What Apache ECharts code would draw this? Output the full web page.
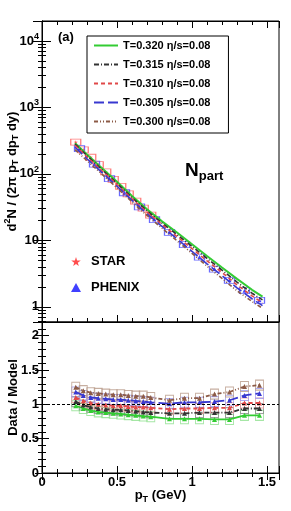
<!DOCTYPE html>
<html><head><meta charset="utf-8">
<script src="https://cdn.jsdelivr.net/npm/echarts@6/dist/echarts.min.js"></script>
<style>html,body{margin:0;padding:0;background:#fff}#c{width:291px;height:511px}</style>
</head><body><div id="c"></div>
<script>
// ---- data ----
const modelNames = ['T=0.320 η/s=0.08','T=0.315 η/s=0.08','T=0.310 η/s=0.08','T=0.305 η/s=0.08','T=0.300 η/s=0.08'];
const modelPt = [0.22,0.3,0.4,0.5,0.6,0.7,0.8,0.9,1.0,1.1,1.2,1.3,1.4,1.47];
const modelT320 = [290,196,122,76,46.6,29.4,19.3,13.1,8.75,5.8,3.9,2.63,1.8,1.42];
const modelT315 = [281,188,116,72.1,44.1,27.8,18.2,12.2,8.1,5.34,3.57,2.35,1.6,1.27];
const modelT310 = [270,180.5,111.6,69.3,42,26.5,17.3,11.4,7.5,4.92,3.29,2.14,1.46,1.15];
const modelT305 = [252,169,104.7,65.1,39.9,25,16.2,10.5,6.8,4.42,2.95,1.93,1.32,1.04];
const modelT300 = [232,157.7,98.9,61.6,37.8,23.7,15.2,9.84,6.37,4.09,2.67,1.74,1.2,0.95];

const starPt = [0.225,0.275,0.325,0.375,0.425,0.475,0.525,0.575,0.625,0.675,0.725];
const starVal = [300,230,178,138,107,83,65,50,39,30.5,24];
const phenixPt = [0.25,0.35,0.45,0.55,0.65,0.75,0.85,0.95,1.05,1.15,1.25,1.35,1.45];
const phenixVal = [240,140,85,52,32,20.5,13.2,8.6,5.6,3.7,2.5,1.75,1.25];

const ratioPt = [0.225,0.275,0.325,0.375,0.425,0.475,0.525,0.575,0.625,0.675,0.725,0.85,0.95,1.05,1.15,1.25,1.35,1.45];
const ratioT320 = [0.98,0.94,0.91,0.89,0.88,0.87,0.86,0.85,0.84,0.83,0.82,0.79,0.79,0.79,0.78,0.78,0.84,0.84];
const ratioT315 = [1.04,0.99,0.96,0.94,0.93,0.92,0.92,0.91,0.90,0.89,0.88,0.87,0.87,0.88,0.88,0.88,0.94,0.94];
const ratioT310 = [1.10,1.05,1.02,1.00,0.99,0.98,0.98,0.97,0.96,0.96,0.95,0.93,0.94,0.94,0.95,0.95,1.02,1.02];
const ratioT305 = [1.18,1.13,1.10,1.09,1.08,1.07,1.07,1.06,1.05,1.04,1.03,1.01,1.03,1.03,1.04,1.06,1.13,1.16];
const ratioT300 = [1.25,1.20,1.17,1.16,1.15,1.14,1.14,1.13,1.12,1.12,1.10,1.06,1.09,1.09,1.15,1.18,1.26,1.28];

const xTicks = [0,0.5,1,1.5];

// ---- styles ----
const modelVals = [modelT320,modelT315,modelT310,modelT305,modelT300];
const ratioVals = [ratioT320,ratioT315,ratioT310,ratioT305,ratioT300];
const colors = ['#33cc33','#333333','#e04848','#3838d0','#8c5a46'];
const light = ['#8fe08f','#8a8a8a','#f09a9a','#9a9af0','#b89a88'];
const dashes = ['solid',[5,2,1,2],[4,3],[10,4],[4,2,1,2,1,2]];
const F = 'Liberation Sans, Arial, sans-serif';
const zip = (a,b)=>a.map((v,i)=>[v,b[i]]);
const starPath = 'path://M50,0 L61,35 L98,35 L68,57 L79,91 L50,70 L21,91 L32,57 L2,35 L39,35 Z';

const series = [];
modelNames.forEach((n,i)=>{
  series.push({name:n,type:'line',xAxisIndex:0,yAxisIndex:0,data:zip(modelPt,modelVals[i]),
    symbol:'none',lineStyle:{color:colors[i],width:i===0?2:1.6,type:dashes[i]},itemStyle:{color:colors[i]},z:4,silent:true});
});
series.push({name:'starBox',type:'scatter',xAxisIndex:0,yAxisIndex:0,data:zip(starPt,starVal),symbol:'rect',symbolSize:[10,6],
  itemStyle:{color:'rgba(0,0,0,0)',borderColor:'#ff5a5a',borderWidth:1},z:2,silent:true});
series.push({name:'phenixBox',type:'scatter',xAxisIndex:0,yAxisIndex:0,data:zip(phenixPt,phenixVal),symbol:'rect',symbolSize:[10,6],
  itemStyle:{color:'rgba(0,0,0,0)',borderColor:'#4545ff',borderWidth:1},z:2,silent:true});
series.push({name:'STAR',type:'scatter',xAxisIndex:0,yAxisIndex:0,data:zip(starPt,starVal),symbol:starPath,symbolSize:4,
  itemStyle:{color:'#ff2020'},z:3,silent:true});
series.push({name:'PHENIX',type:'scatter',xAxisIndex:0,yAxisIndex:0,data:zip(phenixPt,phenixVal),symbol:'triangle',symbolSize:4,
  itemStyle:{color:'#1010ff'},z:3,silent:true});
modelNames.forEach((n,i)=>{
  series.push({name:n+' box',type:'scatter',xAxisIndex:2,yAxisIndex:2,data:zip(ratioPt,ratioVals[i]),symbol:'rect',symbolSize:[8,10],
    itemStyle:{color:'rgba(0,0,0,0)',borderColor:light[i],borderWidth:1},z:2,silent:true});
});
modelNames.forEach((n,i)=>{
  const s = {name:n+' ratio',type:'line',xAxisIndex:2,yAxisIndex:2,data:zip(ratioPt,ratioVals[i]),symbol:'triangle',symbolSize:5,showSymbol:true,
    lineStyle:{color:colors[i],width:1.8,type:dashes[i]},itemStyle:{color:colors[i]},z:4,silent:true};
  if(i===0){ s.markLine={silent:true,symbol:'none',label:{show:false},lineStyle:{color:'#000',width:1,type:[3,2]},data:[{yAxis:1}]}; }
  series.push(s);
});

const tickCommon = {inside:true,length:7,lineStyle:{color:'#000',width:1}};
const minorCommon = {show:true,splitNumber:5,length:4,lineStyle:{color:'#000',width:1}};
const axLine = {show:true,lineStyle:{color:'#000',width:1}};
const lblFont = {fontFamily:F,fontWeight:'bold',fontSize:13,color:'#000'};
function xAx(grid,pos,labels){
  return {type:'value',gridIndex:grid,position:pos,min:0,max:1.58,interval:0.5,
    axisLine:axLine,axisTick:tickCommon,minorTick:minorCommon,splitLine:{show:false},minorSplitLine:{show:false},
    axisLabel:labels?Object.assign({show:true,margin:3,showMaxLabel:false,formatter:v=>xTicks.includes(v)?String(v):''},lblFont):{show:false}};
}
const option = {
  animation:false,
  backgroundColor:'#fff',
  grid:[
    {left:42,right:12,top:21,height:301,show:true,borderColor:'#000',borderWidth:1,backgroundColor:'transparent',outerBoundsMode:'none',containLabel:false},
    {left:42,right:12,top:322,height:151,show:true,borderColor:'#000',borderWidth:1,backgroundColor:'transparent',outerBoundsMode:'none',containLabel:false}
  ],
  xAxis:[
    xAx(0,'bottom',false), xAx(0,'top',false),
    Object.assign(xAx(1,'bottom',true),{name:'p{sub|T} (GeV)',nameLocation:'middle',nameGap:14,nameMoveOverlap:false,
      nameTextStyle:{fontFamily:F,fontWeight:'bold',fontSize:13,color:'#000',rich:{sub:{fontFamily:F,fontWeight:'bold',fontSize:9,padding:[8,0,0,0]}}}}),
    xAx(1,'top',false)
  ],
  yAxis:[
    {type:'log',gridIndex:0,position:'left',min:0.59,max:20000,logBase:10,
      axisLine:axLine,axisTick:Object.assign({},tickCommon,{length:9}),minorTick:{show:true,splitNumber:9,length:4,lineStyle:{color:'#000'}},
      splitLine:{show:false},minorSplitLine:{show:false},
      axisLabel:Object.assign({margin:3,showMinLabel:false,showMaxLabel:false,
        formatter:v=>{const e=Math.round(Math.log10(v)); if(Math.abs(Math.log10(v)-e)>1e-6) return ''; return e===0?'1':e===1?'10':'10{s|'+e+'}';},
        rich:{s:{fontFamily:F,fontWeight:'bold',fontSize:9,padding:[0,0,9,0]}}},lblFont),
      name:'d{s|2}N / (2π p{b|T} dp{b|T} dy)',nameLocation:'middle',nameGap:21,nameMoveOverlap:false,
      nameTextStyle:{fontFamily:F,fontWeight:'bold',fontSize:13,color:'#000',
        rich:{s:{fontFamily:F,fontWeight:'bold',fontSize:9,padding:[0,0,9,0]},b:{fontFamily:F,fontWeight:'bold',fontSize:9,padding:[8,0,0,0]}}}},
    {type:'log',gridIndex:0,position:'right',min:0.59,max:20000,logBase:10,
      axisLine:axLine,axisTick:Object.assign({},tickCommon,{length:9}),minorTick:{show:true,splitNumber:9,length:4,lineStyle:{color:'#000'}},
      splitLine:{show:false},axisLabel:{show:false}},
    {type:'value',gridIndex:1,position:'left',min:0,max:2.2,interval:0.5,
      axisLine:axLine,axisTick:tickCommon,minorTick:minorCommon,splitLine:{show:false},
      axisLabel:Object.assign({margin:3,showMaxLabel:false},lblFont),
      name:'Data / Model',nameLocation:'middle',nameGap:22,nameMoveOverlap:false,nameTextStyle:{fontFamily:F,fontWeight:'bold',fontSize:13,color:'#000'}},
    {type:'value',gridIndex:1,position:'right',min:0,max:2.2,interval:0.5,
      axisLine:axLine,axisTick:tickCommon,minorTick:minorCommon,splitLine:{show:false},axisLabel:{show:false}}
  ],
  legend:[
    {data:modelNames,orient:'vertical',left:87,top:36,padding:[4,18,6,6],itemWidth:24,itemHeight:10,itemGap:8,
      itemStyle:{opacity:0},
      borderColor:'#000',borderWidth:1,textStyle:{fontFamily:F,fontWeight:'bold',fontSize:11,color:'#000'},selectedMode:false},
    {data:[{name:'STAR',icon:starPath},{name:'PHENIX',icon:'triangle'}],orient:'vertical',left:66,top:250,itemWidth:10,itemHeight:9,itemGap:13,
      textStyle:{fontFamily:F,fontWeight:'bold',fontSize:13,color:'#000',padding:[0,0,0,5]},selectedMode:false}
  ],
  graphic:[
    {type:'text',left:58,top:31,style:{text:'(a)',font:'bold 13px '+F,fill:'#000'}},
    {type:'text',left:185,top:161,style:{text:'N{p|part}',font:'bold 19px '+F,fill:'#000',
      rich:{p:{font:'bold 13px '+F,padding:[12,0,0,0]}}}}
  ],
  series:series
};
const chart = echarts.init(document.getElementById('c'),null,{renderer:'canvas'});
chart.setOption(option);
</script></body></html>
